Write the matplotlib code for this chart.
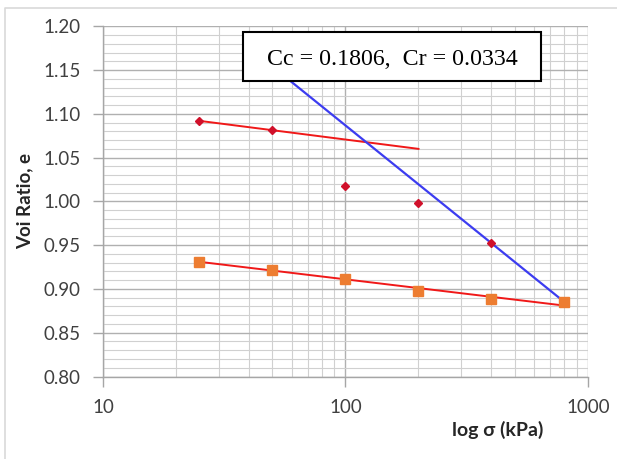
import matplotlib
matplotlib.use("Agg")
import matplotlib.pyplot as plt
from matplotlib.lines import Line2D
from matplotlib.patches import Rectangle
from matplotlib.ticker import LogLocator, MultipleLocator, FixedLocator, NullFormatter

# loading / unloading test data
pressure = [25, 50, 100, 200, 400, 800]
e_loading = [1.092, 1.082, 1.018, 0.998, 0.952, 0.885]
e_unloading = [0.931, 0.922, 0.911, 0.898, 0.889, 0.885]

# fitted lines
recomp_x = [25, 200]
recomp_y = [1.092, 1.060]
virgin_x = [50, 800]
virgin_y = [1.154, 0.885]
swell_x = [25, 800]
swell_y = [0.931, 0.881]

y_ticks = [0.80, 0.85, 0.90, 0.95, 1.00, 1.05, 1.10, 1.15, 1.20]
x_ticks = [10, 100, 1000]
x_ticklabels = ["10", "100", "1000"]
box_text = "Cc = 0.1806,  Cr = 0.0334"

fig = plt.figure(figsize=(6.17, 4.59), dpi=100)
ax = fig.add_axes([0.1669, 0.1797, 0.7861, 0.763])

# outer chart border like the Excel chart area
fig.add_artist(Line2D([5 / 617, 5 / 617, 1.0], [0.0, 1 - 8 / 459, 1 - 8 / 459],
                      transform=fig.transFigure, color="#d9d9d9", lw=1.2))

ax.set_xscale("log")
ax.set_xlim(10, 1000)
ax.set_ylim(0.80, 1.20)

ax.xaxis.set_major_locator(FixedLocator(x_ticks))
ax.set_xticklabels(x_ticklabels)
ax.xaxis.set_minor_locator(LogLocator(base=10, subs=range(2, 10)))
ax.xaxis.set_minor_formatter(NullFormatter())
ax.set_yticks(y_ticks)
ax.set_yticklabels([f"{v:.2f}" for v in y_ticks])
ax.yaxis.set_minor_locator(MultipleLocator(0.01))

ax.grid(which="major", color="#b0b0b0", lw=1.0)
ax.grid(which="minor", color="#d0d0d0", lw=0.8)
ax.set_axisbelow(True)

for s in ["top", "right"]:
    ax.spines[s].set_visible(False)
for s in ["left", "bottom"]:
    ax.spines[s].set_color("#a6a6a6")
    ax.spines[s].set_linewidth(1.0)

ax.tick_params(which="major", direction="out", length=7, width=1.0, color="#a6a6a6",
               labelsize=13.5, labelcolor="#404040")
ax.tick_params(which="minor", length=0)
ax.tick_params(axis="y", pad=9)
ax.tick_params(axis="x", pad=9)
for lab in ax.get_xticklabels() + ax.get_yticklabels():
    lab.set_family("Lato")

# fitted lines
ax.plot(recomp_x, recomp_y, color="#f01818", lw=1.4, zorder=3)
ax.plot(swell_x, swell_y, color="#f01818", lw=1.4, zorder=3)
ax.plot(virgin_x, virgin_y, color="#3c3cf0", lw=1.6, zorder=3)

# data points
ax.plot(pressure, e_loading, ls="none", marker="D", ms=4, color="#d0102a", zorder=4)
ax.plot(pressure, e_unloading, ls="none", marker="s", ms=7, color="#ed7d31", zorder=5)

ax.set_ylabel("Voi Ratio, e", family="Lato", fontsize=13.5, fontweight="bold",
              color="#262626", va="center")
ax.yaxis.set_label_coords(-0.161, 0.5)
ax.set_xlabel("log σ (kPa)", family=["Lato", "DejaVu Sans"], fontsize=14,
              fontweight="bold", color="#262626", va="center")
ax.xaxis.set_label_coords(0.814, -0.153)

# Cc / Cr annotation box
ax.add_patch(Rectangle((0.2887, 0.8438), 0.6144, 0.1399, transform=ax.transAxes,
                       fc="white", ec="black", lw=1.5, zorder=6, clip_on=False))
ax.text(0.596, 0.8895, box_text, transform=ax.transAxes, ha="center", va="baseline",
        family="Liberation Serif", fontsize=17.2, color="black", zorder=7)

fig.savefig("out.png", dpi=100)
